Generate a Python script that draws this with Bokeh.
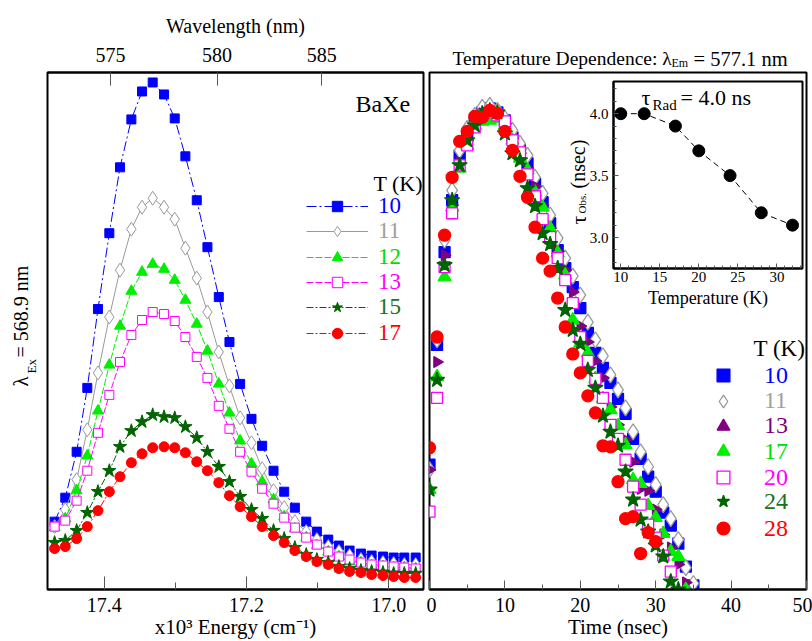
from math import pi

from bokeh.embed import file_html
from bokeh.models import (CustomJSTickFormatter, FixedTicker, GridBox, Label,
                          Legend, LegendItem, LinearAxis, PrintfTickFormatter,
                          Range1d)
from bokeh.plotting import figure
from bokeh.resources import INLINE

FONT = "Liberation Serif"

# ---------------- excitation spectra (left panel) ----------------
energy = [17.470, 17.455, 17.439, 17.424, 17.409, 17.393, 17.378, 17.362,
          17.347, 17.332, 17.316, 17.301, 17.286, 17.270, 17.255, 17.239,
          17.224, 17.209, 17.193, 17.178, 17.162, 17.147, 17.132, 17.116,
          17.101, 17.085, 17.070, 17.055, 17.039, 17.024, 17.008, 16.993,
          16.978, 16.962]

spec_10K = [68, 92, 138, 202, 281, 357, 423, 471, 499, 508, 496, 472, 434, 390,
            343, 293, 248, 206, 171, 144, 119, 98, 82, 68, 58, 50, 44, 39, 36,
            34, 33, 32, 32, 32]
spec_11K = [63, 80, 110, 160, 217, 273, 320, 361, 383, 392, 383, 371, 342, 312,
            278, 238, 204, 172, 147, 121, 99, 82, 68, 58, 50, 43, 38, 34, 30,
            28, 27, 26, 25, 25]
spec_12K = [62, 71, 99, 134, 179, 225, 264, 299, 318, 326, 321, 310, 290, 266,
            239, 206, 177, 149, 126, 108, 90, 73, 61, 52, 44, 38, 33, 28, 27,
            24, 23, 22, 22, 21]
spec_13K = [63, 69, 89, 119, 157, 195, 228, 255, 270, 278, 276, 269, 253, 233,
            212, 184, 161, 138, 118, 101, 86, 72, 62, 52, 45, 38, 33, 30, 27,
            25, 24, 23, 22, 21]
spec_15K = [47, 49, 59, 77, 98, 119, 143, 159, 168, 175, 173, 172, 163, 152,
            138, 123, 108, 93, 80, 71, 59, 51, 42, 35, 30, 27, 23, 21, 19, 18,
            17, 16, 16, 16]
spec_17K = [41, 43, 51, 63, 79, 98, 113, 127, 136, 142, 143, 142, 137, 128, 119,
            107, 94, 83, 73, 63, 54, 47, 39, 33, 28, 25, 21, 18, 17, 15, 14, 13,
            12, 12]

energy_ticks = [17.4, 17.2, 17.0]
energy_minor = [17.3, 17.1]
wavelength_ticks = [575, 580, 585]

# ---------------- decay curves (right panel) ----------------
decay_10K = [125, 245, 338, 390, 435, 455, 468, 478, 482, 478, 470, 453, 440,
             427, 407, 388, 367, 340, 322, 303, 282, 257, 237, 222, 207, 191,
             176, 151, 131, 113, 98, 77, 64, 46, 23, 4]
decay_11K = [120, 250, 350, 400, 440, 462, 475, 483, 485, 480, 472, 460, 447,
             435, 413, 397, 375, 352, 332, 314, 295, 268, 250, 234, 215, 200,
             182, 158, 138, 123, 105, 85, 71, 50, 22, 6]
decay_13K = [120, 228, 335, 385, 428, 450, 465, 477, 480, 476, 467, 452, 437,
             422, 404, 385, 362, 339, 320, 298, 264, 248, 229, 212, 183, 165,
             150, 128, 101, 99, 80, 55, 42, 25, 7]
decay_17K = [100, 213, 313, 383, 422, 445, 465, 469, 470, 472, 465, 450, 432,
             420, 398, 383, 362, 337, 315, 270, 247, 237, 211, 191, 180, 164,
             145, 110, 106, 84, 72, 56, 38, 33, 0]
decay_20K = [78, 192, 323, 377, 425, 445, 463, 475, 478, 475, 469, 450, 438,
             416, 394, 371, 353, 332, 310, 287, 253, 229, 211, 192, 165, 151,
             130, 103, 85, 65, 52, 34, 18]
decay_24K = [100, 210, 325, 390, 425, 450, 465, 477, 480, 478, 457, 437, 430,
             402, 384, 357, 346, 322, 280, 260, 246, 220, 202, 174, 158, 144,
             118, 90, 70, 58, 44, 33, 8, 0]
decay_28K = [142, 253, 355, 413, 449, 459, 474, 473, 480, 477, 459, 440, 414,
             393, 363, 332, 319, 292, 263, 236, 217, 194, 177, 144, 143, 108,
             71, 73, 36, 57, 48]
time_ticks = [0, 10, 20, 30, 40, 50]
time_minor = [5, 15, 25, 35, 45]

# ---------------- lifetime vs temperature (inset) ----------------
inset_temp = [10, 13, 17, 20, 24, 28, 32]
inset_tau = [4.0, 4.0, 3.9, 3.7, 3.5, 3.2, 3.1]


def style_axis(ax, tick_in, minor_in, label_px, title_px, standoff, title_standoff):
    ax.axis_line_color = "black"
    ax.axis_line_width = 2
    ax.major_tick_in = tick_in
    ax.major_tick_out = 0
    ax.minor_tick_in = minor_in
    ax.minor_tick_out = 0
    ax.major_tick_line_color = "#555555"
    ax.minor_tick_line_color = "#555555"
    ax.major_label_text_font = FONT
    ax.major_label_text_font_size = label_px
    ax.major_label_text_color = "black"
    ax.major_label_standoff = standoff
    ax.axis_label_text_font = FONT
    ax.axis_label_text_font_style = "normal"
    ax.axis_label_text_font_size = title_px
    ax.axis_label_text_color = "black"
    ax.axis_label_standoff = title_standoff


def no_frame_align(p):
    try:
        p.frame_align = False
    except AttributeError:
        pass


# ================= left panel =================
p1 = figure(width=426, height=641, min_border_left=47, min_border_right=3,
            min_border_top=72, min_border_bottom=51,
            x_range=Range1d(17.48, 16.951), y_range=Range1d(0, 518),
            y_axis_location=None, output_backend="svg", toolbar_location=None)
no_frame_align(p1)
p1.grid.visible = False
p1.outline_line_color = "black"
p1.outline_line_width = 2

bx = p1.xaxis[0]
bx.ticker = FixedTicker(ticks=energy_ticks, minor_ticks=energy_minor)
bx.formatter = PrintfTickFormatter(format="%.1f")
bx.axis_label = "x10\u00b3 Energy (cm\u207b\u00b9)"
style_axis(bx, 13, 7, "20px", "21px", 8, 0)

top = LinearAxis(ticker=FixedTicker(ticks=[1e4 / w for w in wavelength_ticks], minor_ticks=[]),
                 formatter=CustomJSTickFormatter(code="return Math.round(1e4 / tick).toString();"),
                 axis_label="Wavelength (nm)")
style_axis(top, 13, 0, "20px", "20px", 11, 8)
p1.add_layout(top, "above")

left_series = [
    ("10", spec_10K, "#0000ff", "square", 9, "#0000ff", "10 3 2 3"),
    ("11", spec_11K, "#999999", "diamond", 14, "white", "solid"),
    ("12", spec_12K, "#00ee00", "triangle", 11, "#00ee00", "7 2"),
    ("13", spec_13K, "#ff00ff", "square", 9, "white", "7 2"),
    ("15", spec_15K, "#006400", "star", 14, "#006400", "7 2 2 2"),
    ("17", spec_17K, "#ff0000", "circle", 10, "#ff0000", "7 2 2 2"),
]
text_colors_left = ["#0000ff", "#a0a0a0", "#00dd00", "#ff00ff", "#207020", "#ff0000"]
leg_rows_left = [206.7, 232, 257.5, 283, 308.3, 333.5]
for (lab, vals, col, mk, sz, fill, dash), tcol, row in zip(left_series, text_colors_left, leg_rows_left):
    lr = p1.line(energy, vals, line_color=col, line_width=1, line_dash=dash)
    sr = p1.scatter(energy, vals, marker=mk, size=sz, line_color=col, fill_color=fill, line_width=1)
    gh = 26
    leg = Legend(items=[LegendItem(label=lab, renderers=[lr, sr])],
                 location=(306 - 47, 590 - (row + gh / 2)),
                 glyph_width=62, glyph_height=gh, label_height=gh, label_standoff=10,
                 label_text_font=FONT, label_text_font_size="23px",
                 label_text_color=tcol, label_text_baseline="middle",
                 padding=0, margin=0, spacing=0,
                 border_line_alpha=0, background_fill_alpha=0)
    p1.add_layout(leg)

# ================= right panel =================
p2 = figure(width=386, height=641, min_border_left=3, min_border_right=6,
            min_border_top=72, min_border_bottom=51,
            x_range=Range1d(0, 50), y_range=Range1d(0, 518),
            y_axis_location=None, output_backend="svg", toolbar_location=None)
no_frame_align(p2)
p2.grid.visible = False
p2.outline_line_color = "black"
p2.outline_line_width = 2
tx = p2.xaxis[0]
tx.ticker = FixedTicker(ticks=time_ticks, minor_ticks=time_minor)
tx.axis_label = "Time (nsec)"
style_axis(tx, 9, 5, "20px", "21px", 8, 0)

right_series = [
    ("10", decay_10K, "#0000ff", "square", 11, "#0000ff", 0.0, "#0000ff"),
    ("11", decay_11K, "#999999", "diamond", 16, "white", 0.0, "#a0a0a0"),
    ("13", decay_13K, "#800080", "triangle", 11, "#800080", -pi / 2, "#800080"),
    ("17", decay_17K, "#00ee00", "triangle", 13, "#00ee00", 0.0, "#00dd00"),
    ("20", decay_20K, "#ff00ff", "square", 11, "white", 0.0, "#ff00ff"),
    ("24", decay_24K, "#006400", "star", 16, "#006400", 0.0, "#207020"),
    ("28", decay_28K, "#ff0000", "circle", 12, "#ff0000", 0.0, "#ff0000"),
]
leg_rows_right = [376, 401.5, 426.5, 452, 478, 502, 529]
for (lab, vals, col, mk, sz, fill, ang, tcol), row in zip(right_series, leg_rows_right):
    t = list(range(len(vals)))
    sr = p2.scatter(t, vals, marker=mk, size=sz, angle=ang, line_color=col,
                    fill_color=fill, line_width=1.3)
    gh = 32
    leg = Legend(items=[LegendItem(label=lab, renderers=[sr])],
                 location=(707 - 429, 590 - (row + gh / 2)),
                 glyph_width=32, glyph_height=gh, label_height=gh, label_standoff=25,
                 label_text_font=FONT, label_text_font_size="24px",
                 label_text_color=tcol, label_text_baseline="middle",
                 padding=0, margin=0, spacing=0,
                 border_line_alpha=0, background_fill_alpha=0)
    p2.add_layout(leg)

# ================= inset: lifetime vs temperature =================
p3 = figure(width=252, height=241, min_border_left=57, min_border_right=6,
            min_border_top=9, min_border_bottom=45,
            x_range=Range1d(9.07, 33.28), y_range=Range1d(2.75, 4.26),
            output_backend="svg", toolbar_location=None, margin=(72, 0, 0, 130))
no_frame_align(p3)
p3.grid.visible = False
p3.outline_line_color = "black"
p3.outline_line_width = 2
p3.border_fill_alpha = 0
p3.background_fill_color = "white"
ix = p3.xaxis[0]
ix.ticker = FixedTicker(ticks=[10, 15, 20, 25, 30], minor_ticks=list(range(10, 34)))
ix.axis_label = "Temperature (K)"
style_axis(ix, 5, 3, "15px", "18px", 3, 3)
iy = p3.yaxis[0]
iy.ticker = FixedTicker(ticks=[3.0, 3.5, 4.0],
                        minor_ticks=[2.8, 2.9, 3.1, 3.2, 3.3, 3.4, 3.6, 3.7, 3.8, 3.9, 4.1, 4.2])
iy.formatter = PrintfTickFormatter(format="%.1f")
style_axis(iy, 5, 3, "15px", "15px", 5, 0)

p3.line(inset_temp, inset_tau, line_color="black", line_width=1, line_dash="6 4")
p3.scatter(inset_temp, inset_tau, marker="circle", size=12, line_color="black", fill_color="black")

# ================= text layer (canvas pixel coordinates) =================
ov = figure(width=812, height=641, min_border=0, x_range=Range1d(0, 812),
            y_range=Range1d(641, 0), x_axis_location=None, y_axis_location=None,
            output_backend="svg", toolbar_location=None)
no_frame_align(ov)
ov.grid.visible = False
ov.outline_line_color = None
ov.background_fill_alpha = 0
ov.border_fill_alpha = 0


def text(x, y, s, size, angle=0.0, baseline="middle"):
    ov.add_layout(Label(x=x, y=y, text=s, angle=angle, text_font=FONT,
                        text_font_size=size, text_color="black", text_align="left",
                        text_baseline=baseline))


text(355, 103, "BaXe", "24px")
text(373, 183, "T (K)", "22px")
text(753, 348, "T (K)", "23px")
# rotated title of the spectra axis (baseline on the right of the glyphs)
text(20, 386, "\u03bb", "21px", angle=pi / 2, baseline="alphabetic")
text(31, 373, "Ex", "13px", angle=pi / 2, baseline="alphabetic")
text(20, 357, "= 568.9 nm", "20px", angle=pi / 2, baseline="alphabetic")
# heading of the decay panel
text(452, 58, "Temperature Dependence: \u03bb", "19.5px", baseline="alphabetic")
text(671, 62, "Em", "12px", baseline="alphabetic")
text(693, 58, "= 577.1 nm", "20.5px", baseline="alphabetic")
# inset texts
text(641, 97, "\u03c4", "22px")
text(652, 104, "Rad", "15px")
text(680, 97, "= 4.0 ns", "22px")
text(578, 224, "\u03c4", "22px", angle=pi / 2, baseline="alphabetic")
text(581, 213, "Obs.", "11px", angle=pi / 2, baseline="alphabetic")
text(577, 188, "(nsec)", "20px", angle=pi / 2, baseline="alphabetic")

layout = GridBox(children=[(p1, 0, 0), (p2, 0, 1), (p3, 0, 1), (ov, 0, 0, 1, 2)], spacing=0)

open("out.html", "w").write(file_html(layout, INLINE))
